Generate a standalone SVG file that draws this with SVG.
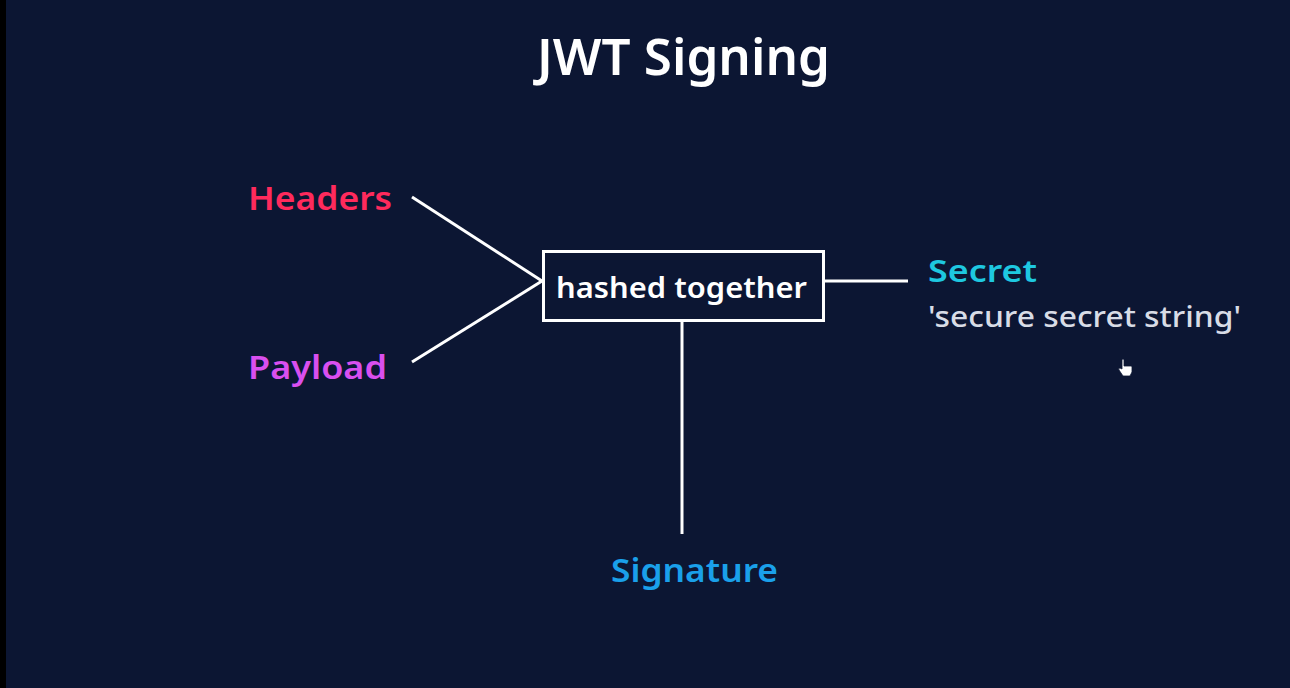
<svg xmlns="http://www.w3.org/2000/svg" width="1290" height="688" viewBox="0 0 1290 688">
<style>
text{font-family:"Noto Sans","Open Sans",sans-serif;font-weight:600}
.ln{stroke:#ffffff;stroke-width:3;fill:none;stroke-linecap:butt}
</style>
<rect x="0" y="0" width="1290" height="688" fill="#0c1633"/>
<rect x="0" y="0" width="6" height="688" fill="#000000"/>
<text x="537" y="75" font-size="50" fill="#ffffff" textLength="293" lengthAdjust="spacingAndGlyphs">JWT Signing</text>
<g id="connectors">
<line class="ln" x1="412" y1="197" x2="542" y2="281"/>
<line class="ln" x1="412" y1="362" x2="542" y2="281"/>
<line class="ln" x1="825" y1="281" x2="908" y2="281"/>
<line class="ln" x1="682" y1="321" x2="682" y2="534"/>
</g>
<g id="headers"><text x="248" y="210" font-size="32" fill="#ff2a5c" textLength="144" lengthAdjust="spacingAndGlyphs">Headers</text></g>
<g id="payload"><text x="248" y="379" font-size="32" fill="#d94fef" textLength="139" lengthAdjust="spacingAndGlyphs">Payload</text></g>
<g id="hash">
<rect class="ln" x="543.5" y="251.5" width="280" height="69"/>
<text x="556" y="298" font-size="28" fill="#ffffff" textLength="251" lengthAdjust="spacingAndGlyphs">hashed together</text>
</g>
<g id="secret">
<text x="928" y="282" font-size="31" fill="#1ec8e0" textLength="109" lengthAdjust="spacingAndGlyphs">Secret</text>
<text x="928" y="327" font-size="28" fill="#d8dce6" style="font-weight:500" textLength="313" lengthAdjust="spacingAndGlyphs">'secure secret string'</text>
</g>
<g id="signature"><text x="611" y="582" font-size="32" fill="#1aa0ea" textLength="167" lengthAdjust="spacingAndGlyphs">Signature</text></g>
<g id="cursor">
<path d="M1122 360 v9 l-2 -1 q-2 0 -1 2 l4 6 h7 l2 -4 v-5 q0 -1 -1 -1 h-7 v-6 q0 -1 -1 -1 q-1 0 -1 1z" fill="#ffffff" stroke="#0c1633" stroke-width="0.8"/>
</g>
</svg>
